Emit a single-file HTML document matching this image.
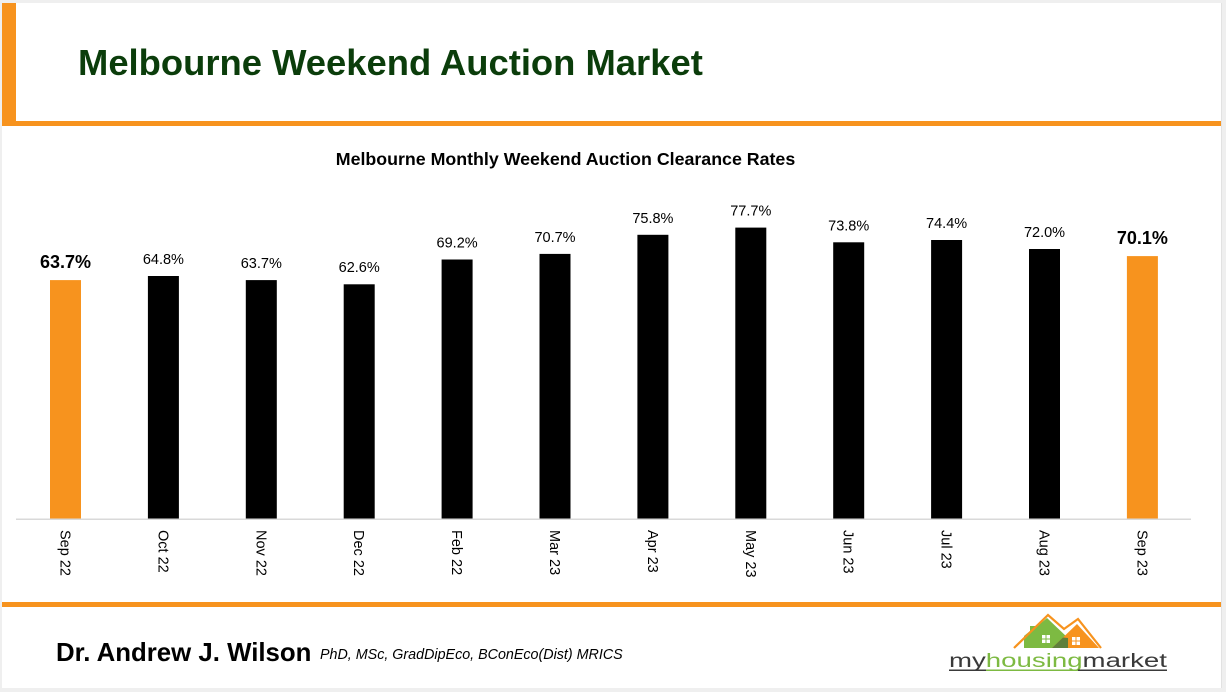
<!DOCTYPE html>
<html>
<head>
<meta charset="utf-8">
<style>
  html, body { margin: 0; padding: 0; background: #efefef; }
  body { width: 1226px; height: 692px; overflow: hidden; }
  svg { display: block; }
  text { font-family: "Liberation Sans", Arial, sans-serif; }
</style>
</head>
<body>
<svg width="1226" height="692" viewBox="0 0 1226 692" xmlns="http://www.w3.org/2000/svg">
  <!-- background & slide -->
  <rect x="0" y="0" width="1226" height="692" fill="#efefef"/>
  <rect x="2" y="3" width="1219" height="685" fill="#ffffff"/>
  <rect x="1221" y="3" width="1" height="685" fill="#e2e2e2"/>

  <!-- header frame -->
  <rect x="2" y="3" width="14" height="123" fill="#f7931e"/>
  <rect x="2" y="121" width="1219" height="5" fill="#f7931e"/>

  <!-- title -->
  <text x="78" y="75" font-size="36.4" font-weight="bold" fill="#0b3d0b">Melbourne Weekend Auction Market</text>

  <!-- chart title -->
  <text x="565.5" y="165" font-size="17.8" font-weight="bold" fill="#000" text-anchor="middle">Melbourne Monthly Weekend Auction Clearance Rates</text>

  <!-- bars -->
  <g>
    <rect x="50"    y="280.1" width="31" height="238.9" fill="#f7931e"/>
    <rect x="147.9" y="276"   width="31" height="243"   fill="#000"/>
    <rect x="245.8" y="280.1" width="31" height="238.9" fill="#000"/>
    <rect x="343.7" y="284.3" width="31" height="234.7" fill="#000"/>
    <rect x="441.6" y="259.5" width="31" height="259.5" fill="#000"/>
    <rect x="539.5" y="253.9" width="31" height="265.1" fill="#000"/>
    <rect x="637.4" y="234.8" width="31" height="284.2" fill="#000"/>
    <rect x="735.3" y="227.6" width="31" height="291.4" fill="#000"/>
    <rect x="833.2" y="242.3" width="31" height="276.7" fill="#000"/>
    <rect x="931.1" y="240"   width="31" height="279"   fill="#000"/>
    <rect x="1029"  y="249"   width="31" height="270"   fill="#000"/>
    <rect x="1126.9" y="256.1" width="31" height="262.9" fill="#f7931e"/>
  </g>

  <!-- axis -->
  <rect x="16" y="518.5" width="1175" height="1.5" fill="#d9d9d9"/>

  <!-- value labels -->
  <g fill="#000" text-anchor="middle">
    <text x="65.5"   y="268" font-size="18" font-weight="bold">63.7%</text>
    <text x="163.4"  y="264" font-size="14.5">64.8%</text>
    <text x="261.3"  y="268" font-size="14.5">63.7%</text>
    <text x="359.2"  y="272" font-size="14.5">62.6%</text>
    <text x="457.1"  y="247.5" font-size="14.5">69.2%</text>
    <text x="555"    y="242" font-size="14.5">70.7%</text>
    <text x="652.9"  y="223" font-size="14.5">75.8%</text>
    <text x="750.8"  y="215.6" font-size="14.5">77.7%</text>
    <text x="848.7"  y="230.3" font-size="14.5">73.8%</text>
    <text x="946.6"  y="228" font-size="14.5">74.4%</text>
    <text x="1044.5" y="237" font-size="14.5">72.0%</text>
    <text x="1142.4" y="244" font-size="18" font-weight="bold">70.1%</text>
  </g>

  <!-- x-axis labels (rotated) -->
  <g fill="#000" font-size="14.5">
    <text transform="translate(65.5,530) rotate(90)" x="0" y="5">Sep 22</text>
    <text transform="translate(163.4,530) rotate(90)" x="0" y="5">Oct 22</text>
    <text transform="translate(261.3,530) rotate(90)" x="0" y="5">Nov 22</text>
    <text transform="translate(359.2,530) rotate(90)" x="0" y="5">Dec 22</text>
    <text transform="translate(457.1,530) rotate(90)" x="0" y="5">Feb 22</text>
    <text transform="translate(555,530) rotate(90)" x="0" y="5">Mar 23</text>
    <text transform="translate(652.9,530) rotate(90)" x="0" y="5">Apr 23</text>
    <text transform="translate(750.8,530) rotate(90)" x="0" y="5">May 23</text>
    <text transform="translate(848.7,530) rotate(90)" x="0" y="5">Jun 23</text>
    <text transform="translate(946.6,530) rotate(90)" x="0" y="5">Jul 23</text>
    <text transform="translate(1044.5,530) rotate(90)" x="0" y="5">Aug 23</text>
    <text transform="translate(1142.4,530) rotate(90)" x="0" y="5">Sep 23</text>
  </g>

  <!-- bottom orange line -->
  <rect x="2" y="602" width="1219" height="5" fill="#f7931e"/>

  <!-- footer -->
  <text x="56" y="661" font-size="25.8" font-weight="bold" fill="#000">Dr. Andrew J. Wilson</text>
  <text x="320" y="659" font-size="14.3" font-style="italic" fill="#000">PhD, MSc, GradDipEco, BConEco(Dist) MRICS</text>

  <!-- logo -->
  <g>
    <polygon points="1024,648 1024,636 1030,631 1030,626 1035,626 1035,628 1047,618 1068,638 1068,648" fill="#7dba42"/>
    <polygon points="1052,648 1077,624 1099,648" fill="#f7931e"/>
    <polygon points="1052,648 1063,637.5 1068,638 1068,648" fill="#5f7f3c"/>
    <polyline points="1014,648 1048,615 1064,629 1078,619 1101,648" fill="none" stroke="#f7931e" stroke-width="2.2"/>
    <!-- windows -->
    <rect x="1042" y="635" width="3.5" height="3.5" fill="#fff"/>
    <rect x="1046.5" y="635" width="3.5" height="3.5" fill="#fff"/>
    <rect x="1042" y="639.5" width="3.5" height="3.5" fill="#fff"/>
    <rect x="1046.5" y="639.5" width="3.5" height="3.5" fill="#fff"/>
    <rect x="1072" y="637" width="3.5" height="3.5" fill="#fff"/>
    <rect x="1076.5" y="637" width="3.5" height="3.5" fill="#fff"/>
    <rect x="1072" y="641.5" width="3.5" height="3.5" fill="#fff"/>
    <rect x="1076.5" y="641.5" width="3.5" height="3.5" fill="#fff"/>
    <text x="949" y="667" font-size="19" textLength="218" lengthAdjust="spacingAndGlyphs"><tspan fill="#3a3a3a">my</tspan><tspan fill="#7dba42">housing</tspan><tspan fill="#3a3a3a">market</tspan></text>
    <rect x="949" y="669.5" width="37" height="1.5" fill="#3a3a3a"/>
    <rect x="986" y="669.5" width="92" height="1.5" fill="#7dba42"/>
    <rect x="1078" y="669.5" width="89" height="1.5" fill="#3a3a3a"/>
  </g>
</svg>
</body>
</html>
